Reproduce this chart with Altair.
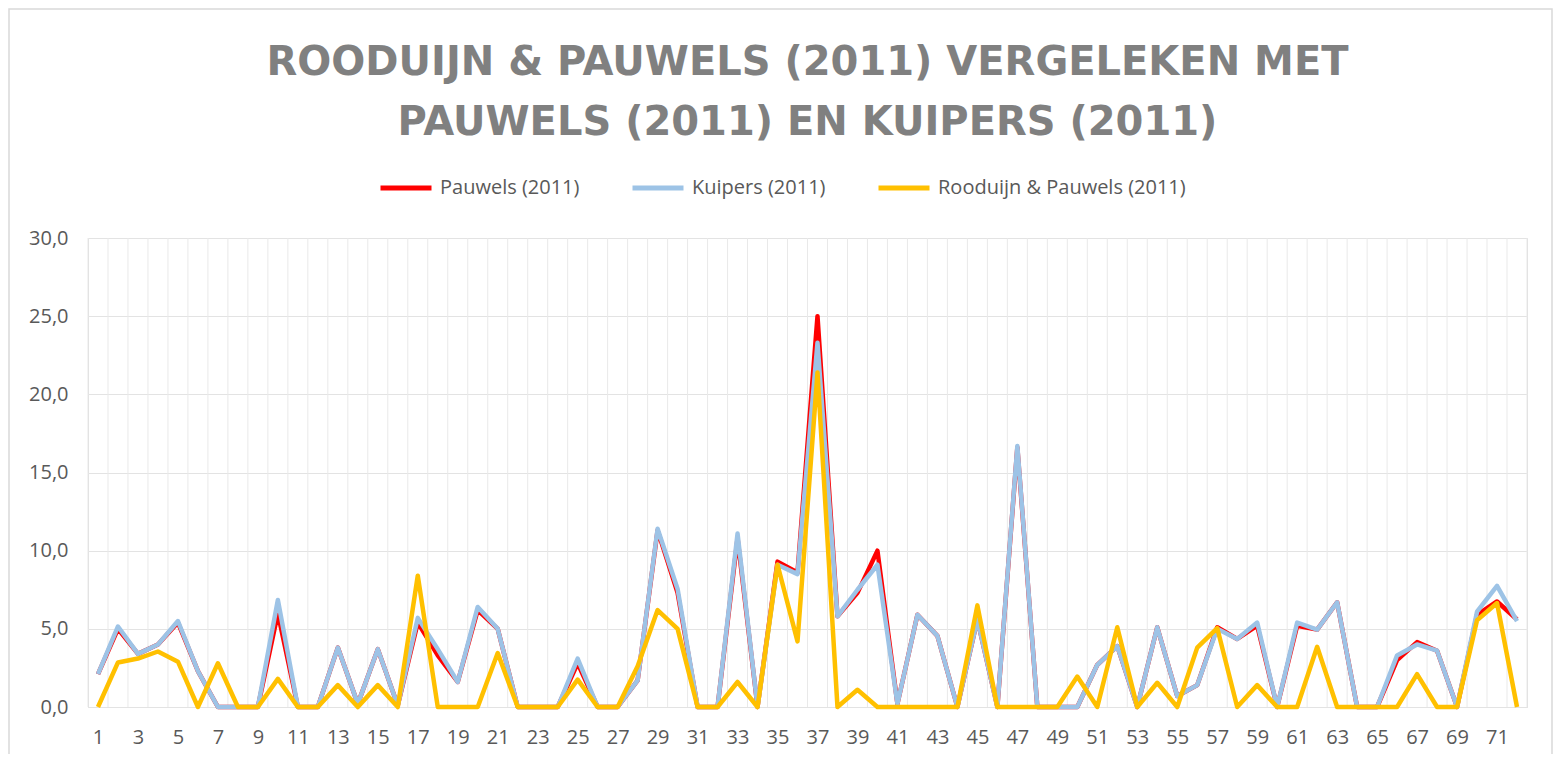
import altair as alt
import pandas as pd

categories = list(range(1, 73))

pauwels = [2.1, 5.0, 3.4, 4.0, 5.4, 2.3, 0, 0, 0, 6.0,
           0, 0, 3.8, 0.2, 3.7, 0.1, 5.4, 3.3, 1.6, 6.2,
           5.0, 0, 0, 0, 2.8, 0, 0, 1.7, 11.3, 7.3,
           0, 0, 10.8, 0, 9.3, 8.6, 25.0, 5.8, 7.3, 10.0,
           0.2, 5.9, 4.55, 0, 5.6, 0, 16.6, 0, 0, 0,
           2.7, 3.9, 0, 5.1, 0.7, 1.4, 5.1, 4.35, 5.2, 0,
           5.2, 4.95, 6.7, 0, 0, 3.0, 4.15, 3.6, 0, 5.9,
           6.75, 5.6]

kuipers = [2.1, 5.15, 3.4, 4.0, 5.5, 2.3, 0, 0, 0, 6.85,
           0, 0, 3.8, 0.2, 3.7, 0.1, 5.7, 3.7, 1.6, 6.4,
           5.0, 0, 0, 0, 3.1, 0, 0, 1.7, 11.4, 7.55,
           0, 0, 11.1, 0, 9.1, 8.5, 23.3, 5.8, 7.5, 9.1,
           0.2, 5.9, 4.55, 0, 5.6, 0, 16.7, 0, 0, 0,
           2.7, 3.9, 0, 5.1, 0.7, 1.4, 5.0, 4.35, 5.4, 0,
           5.4, 4.95, 6.7, 0, 0, 3.3, 4.0, 3.6, 0, 6.1,
           7.75, 5.5]

rooduijn = [0, 2.85, 3.1, 3.55, 2.9, 0, 2.8, 0, 0, 1.8,
            0, 0, 1.4, 0, 1.4, 0, 8.4, 0, 0, 0,
            3.45, 0, 0, 0, 1.75, 0, 0, 2.6, 6.2, 5.0,
            0, 0, 1.6, 0, 9.1, 4.2, 21.4, 0, 1.1, 0,
            0, 0, 0, 0, 6.5, 0, 0, 0, 0, 1.95,
            0, 5.1, 0, 1.55, 0, 3.8, 5.05, 0, 1.4, 0,
            0, 3.85, 0, 0, 0, 0, 2.1, 0, 0, 5.55,
            6.65, 0]

series_names = ["Pauwels (2011)", "Kuipers (2011)", "Rooduijn & Pauwels (2011)"]
series_colors = ["#FF0000", "#9DC3E6", "#FFC000"]
y_ticks = [0, 5, 10, 15, 20, 25, 30]
x_label_values = [c for c in categories if c % 2 == 1]

rows = []
for name, vals in zip(series_names, [pauwels, kuipers, rooduijn]):
    for c, v in zip(categories, vals):
        rows.append({"cat": c, "value": v, "series": name})
df = pd.DataFrame(rows)

# category boundaries for the vertical gridlines (Excel draws them between categories)
grid_df = pd.DataFrame({"edge": [c - 0.5 for c in categories] + [categories[-1] + 0.5]})

W, H = 1439, 469
x_scale = alt.Scale(domain=[0.5, 72.5], nice=False, zero=False)

x_axis = alt.Axis(
    values=x_label_values,
    title=None,
    domain=False,
    ticks=False,
    grid=False,
    format="d",
    labelOverlap=False,
    labelPadding=20,
    labelFont="Open Sans",
    labelFontSize=20,
    labelColor="#595959",
)

y_axis = alt.Axis(
    values=y_ticks,
    title=None,
    domain=False,
    ticks=False,
    grid=True,
    gridColor="#e3e3e3",
    gridWidth=1,
    labelExpr="replace(format(datum.value, '.1f'), '.', ',')",
    labelPadding=20,
    labelFont="Open Sans",
    labelFontSize=20,
    labelColor="#595959",
)

vgrid = alt.Chart(grid_df).mark_rule(color="#e9e9e9", strokeWidth=1).encode(
    x=alt.X("edge:Q", scale=x_scale, axis=x_axis),
)

lines = alt.Chart(df).mark_line(strokeWidth=4.5, strokeJoin="round").encode(
    x=alt.X("cat:Q", scale=x_scale, axis=x_axis),
    y=alt.Y("value:Q", scale=alt.Scale(domain=[0, 30], nice=False), axis=y_axis),
    color=alt.Color(
        "series:N",
        scale=alt.Scale(domain=series_names, range=series_colors),
        sort=series_names,
        legend=alt.Legend(
            title=None,
            orient="none",
            direction="horizontal",
            legendX=290,
            legendY=-78,
            symbolType="stroke",
            symbolSize=2601,
            symbolStrokeWidth=5,
            labelFont="Open Sans",
            labelFontSize=20,
            labelColor="#595959",
            labelOffset=6,
            labelLimit=400,
            columnPadding=42,
            padding=0,
        ),
    ),
    detail="series:N",
)

border = alt.Chart(pd.DataFrame({"k": [0]})).mark_rect(
    fill="transparent", stroke="#d9d9d9", strokeWidth=1.5
).encode(
    x=alt.value(-79), x2=alt.value(1464), y=alt.value(-229), y2=alt.value(H + 200)
)

chart = alt.layer(border, vgrid, lines).properties(
    width=W,
    height=H,
    autosize=alt.AutoSizeParams(type="none"),
    padding={"left": 80, "top": 230, "right": 27, "bottom": 47},
    title=alt.TitleParams(
        text=["ROODUIJN & PAUWELS (2011) VERGELEKEN MET", "PAUWELS (2011) EN KUIPERS (2011)"],
        font="DejaVu Sans",
        fontSize=40,
        fontWeight="bold",
        color="#808080",
        anchor="middle",
        lineHeight=60,
        offset=-135,
    ),
).configure_view(stroke=None).configure(background="white")

chart.save("out.html", embed_options={"renderer": "svg", "actions": False})
